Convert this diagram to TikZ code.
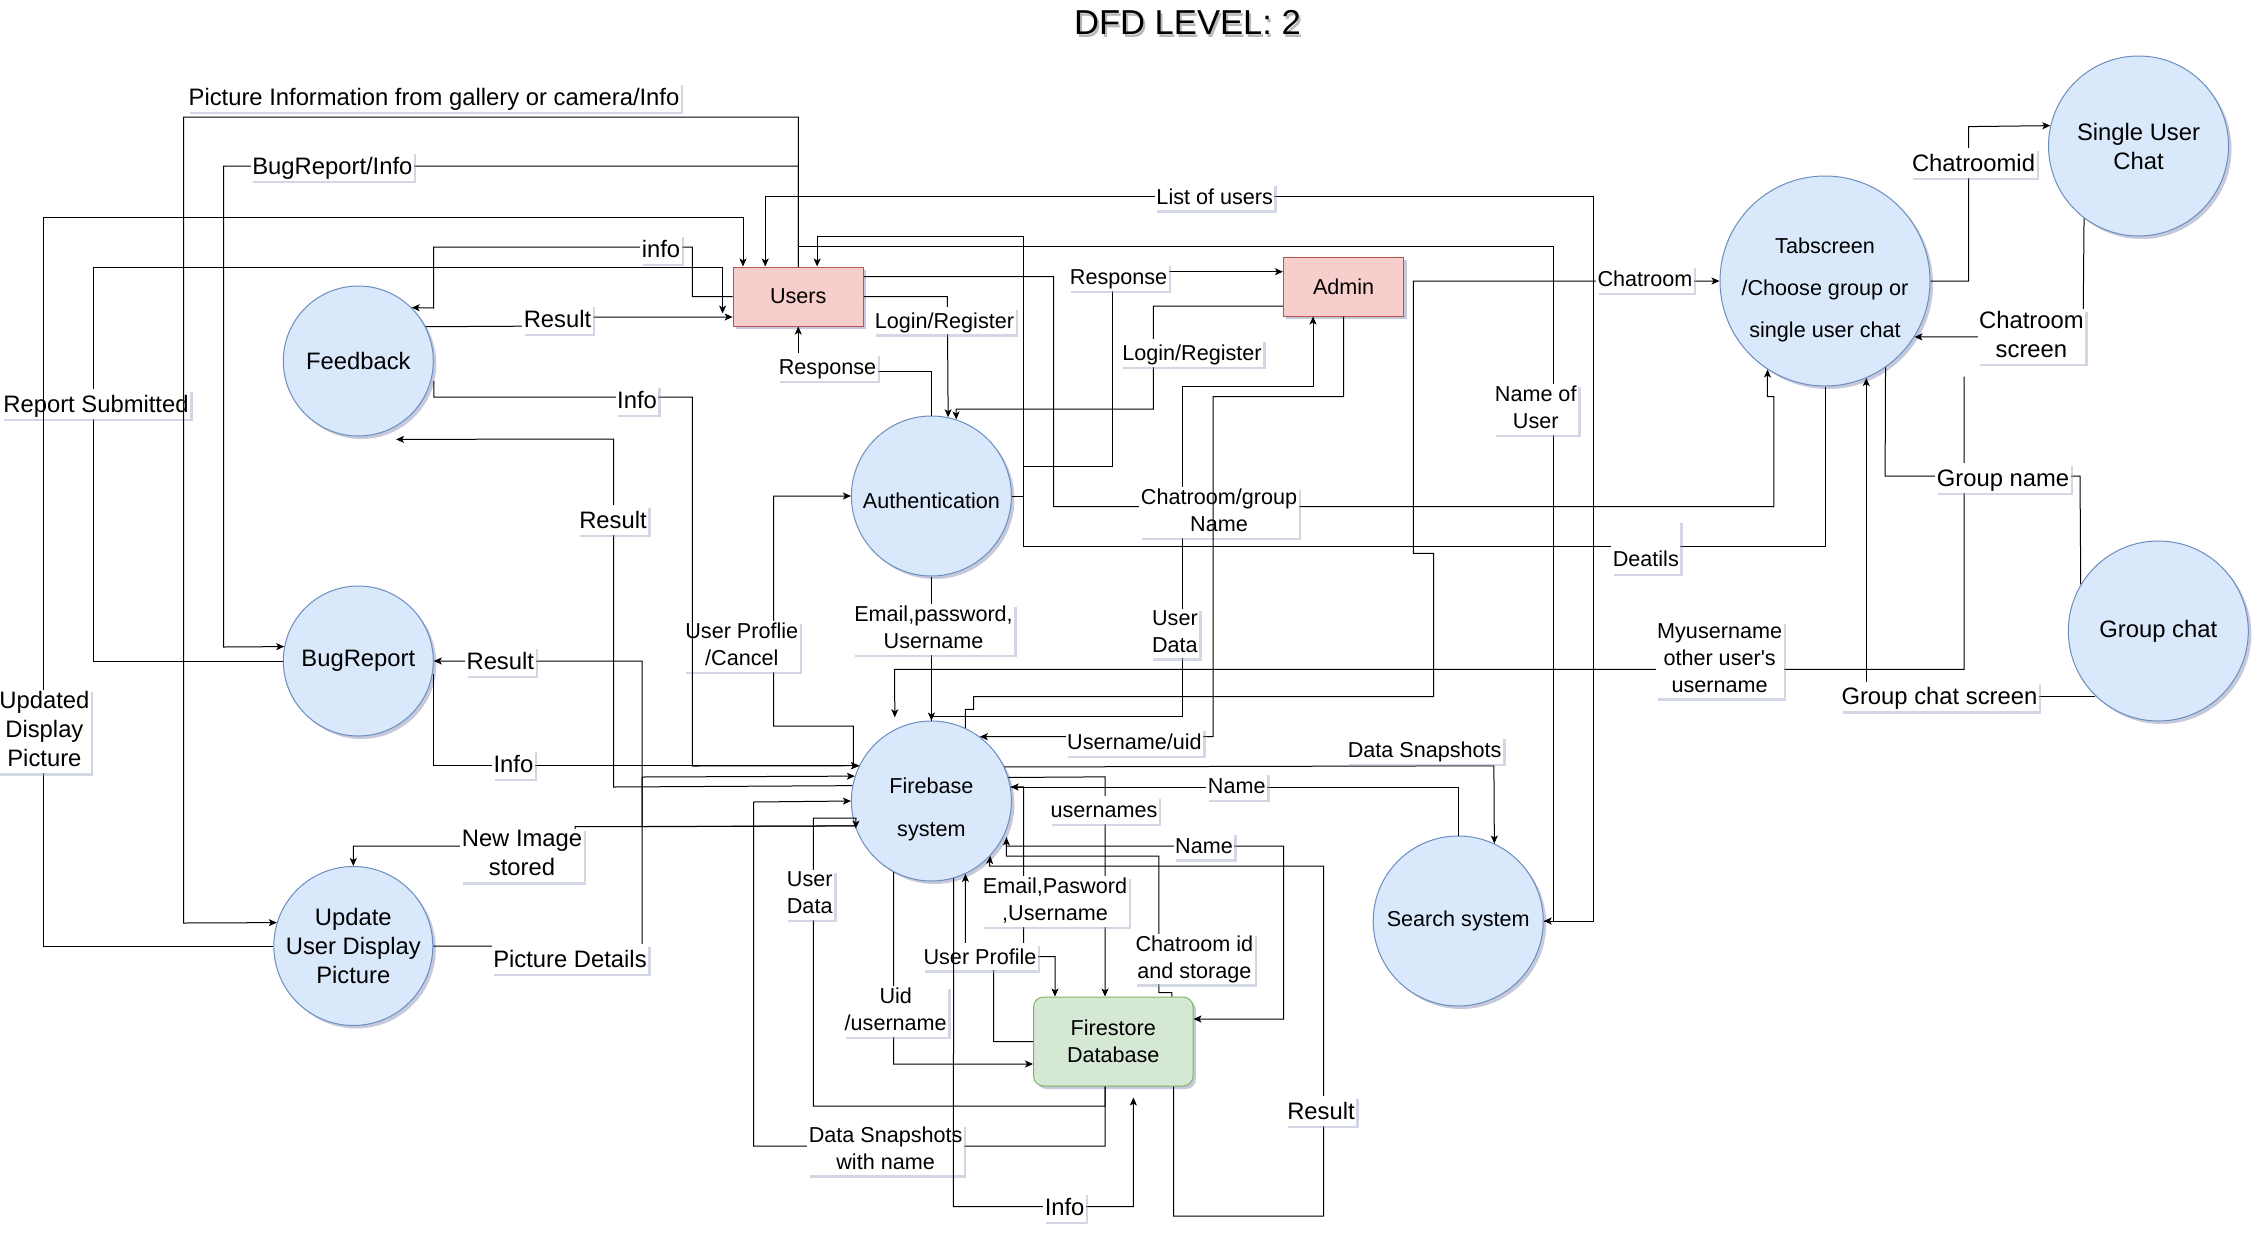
\documentclass[tikz,border=0pt]{standalone}
\usepackage{fontspec}
\setmainfont{Liberation Sans}
\usetikzlibrary{arrows.meta,shadows}
\definecolor{procfill}{HTML}{DAE8FC}
\definecolor{procline}{HTML}{6C8EBF}
\definecolor{entfill}{HTML}{F8CECC}
\definecolor{entline}{HTML}{B85450}
\definecolor{storefill}{HTML}{D5E8D4}
\definecolor{storeline}{HTML}{82B366}
\definecolor{shadowc}{HTML}{9FA6C4}
\newcommand\labS{\fontsize{21.6}{27}\selectfont}
\newcommand\labL{\fontsize{23.8}{29}\selectfont}
\newcommand\ttlfont{\fontsize{34.6}{40}\selectfont}
\newcommand\strS{\rule[-4.6pt]{0pt}{24.1pt}}
\newcommand\strL{\rule[-5pt]{0pt}{26.5pt}}
\begin{document}
\begin{tikzpicture}[x=1pt,y=-1pt,
  conn/.style={line width=1pt, draw=black},
  arr/.style={conn, -{Stealth[length=8pt,width=7pt,inset=2pt]}},
  lab/.style={fill=white, inner sep=1.5pt, align=center, font=\labS, execute at begin node={\strS}, execute at end node={\strS}, drop shadow={shadow xshift=2.5pt, shadow yshift=-2.5pt, fill=shadowc, opacity=0.45}},
  labL/.style={lab, font=\labL, execute at begin node={\strL}, execute at end node={\strL}},
  nshadow/.style={drop shadow={shadow xshift=3pt, shadow yshift=-3pt, fill=shadowc, opacity=0.6}},
  proc/.style={circle, draw=procline, fill=procfill, line width=1pt, inner sep=0pt, minimum size=#1, align=center, font=\labS, nshadow},
  procL/.style={proc=#1, font=\labL},
  ent/.style={rectangle, draw=entline, fill=entfill, line width=1pt, inner sep=0pt, align=center, font=\labS, nshadow},
  store/.style={rectangle, rounded corners=10pt, draw=storeline, fill=storefill, line width=1pt, inner sep=0pt, align=center, font=\labS, nshadow}
]
\fill[white] (0,0) rectangle (2261,1237);
\path[use as bounding box] (0,0) rectangle (2261,1237);

% title
\node[font=\ttlfont, text=black!45, opacity=0.6] (ttlshadow) at (1189.5,25) {DFD LEVEL: 2};
\node[font=\ttlfont] (ttl) at (1187.5,22) {DFD LEVEL: 2};

% nodes
\node[procL=150] (fbk) at (358.3,361) {Feedback};
\node[procL=150] (bug) at (358.3,661) {BugReport};
\node[procL=159] (upd) at (353.3,946) {Update\\User Display\\Picture};
\node[proc=160] (auth) at (931.4,496) {\rule{0pt}{25.8pt}Authentication};
\node[proc=160] (fb) at (931.4,801) {\rule{0pt}{32pt}Firebase\\[16pt]system};
\node[proc=170] (srch) at (1458.2,921) {Search system};
\node[proc=210] (tab) at (1825,281) {\rule{0pt}{33.8pt}Tabscreen\\[15pt]/Choose group or\\[15pt]single user chat};
\node[procL=180] (single) at (2138.5,146) {Single User\\Chat};
\node[procL=180] (grp) at (2158.3,631) {Group chat};
\node[ent, minimum width=130.3pt, minimum height=59pt] (users) at (798.25,296.5) {Users};
\node[ent, minimum width=120.3pt, minimum height=59pt] (admin) at (1343.6,286.5) {Admin};
\node[store, minimum width=159.5pt, minimum height=89pt] (fs) at (1113.25,1041.5) {Firestore\\Database};

% Report Submitted
\draw[arr] (bug.west) -- (93.2,661) -- (93.2,267) -| ([shift={(-10pt,13pt)}]users.south west);
\node[labL] (l4) at (96,404) {Report Submitted};
% Picture information
\draw[arr] (users.north) |- (183.5,117) -- (183.5,923) -- (upd.163.3);
\node[labL] (l1) at (434,97) {Picture Information from gallery or camera/Info};
% Updated display picture
\draw[arr] (upd.west) -- (43.7,946) -- (43.7,217) -| ([xshift=10.4pt]users.north west);
\node[labL] (l3) at (44.4,731.5) {Updated\\Display\\Picture};
% BugReport/Info
\draw[arr] (users.north) |- (223.5,166) -- (223.5,647) -- (bug.169.24);
\node[labL] (l2) at (332.4,166) {BugReport/Info};
% info
\draw[arr] (users.west) -- (692.4,296.5) -- (692.4,247) -- (433.6,247) -- (433.6,308) -- (fbk.45);
\node[labL] (l5) at (661,249) {info};
% Result feedback -> users
\draw[arr] (fbk.27.8) -- (557.5,326) -- (557.5,317) -- ([yshift=-20.5pt]users.west);
\node[labL] (l6) at (557.5,319) {Result};
% User Proflie /Cancel
\draw[arr] (fb.154.06) -- (853.4,766) -- (853.4,726) -- (773.5,726) -- (773.5,496) -- (auth.west);
\node[lab] (l23) at (741.8,646.5) {User Proflie\\/Cancel};
% Info feedback -> firebase
\draw[arr] ([yshift=-20pt]fbk.east) |- (692.4,397) -- (692.4,766) -- (fb.154.06);
\node[labL] (l7) at (637,400) {Info};
% Result firebase -> feedback
\draw[arr] (fb.169.9) -- (613.6,787) -- (613.6,439) -- ([yshift=-13pt]fbk.-60);
\node[labL] (l8) at (613,520) {Result};
% Result firebase -> bugreport
\draw[arr] (fb.198.74) -- (642,826.7) -- (642,661) -- (bug.east);
\node[labL] (l9) at (500.3,661) {Result};
% Info bugreport -> firebase
\draw[arr] ([yshift=-13pt]bug.east) |- (fb.154.06);
\node[labL] (l10) at (513.4,764) {Info};
% New image stored
\draw[arr] (fb.198.74) -- (575,826.7) -- (575,846) -| (upd.north);
% Picture details
\draw[arr] (upd.east) -- (642,946) -- (642,777) -- (fb.162.54);
\node[labL] (l12) at (570,959) {Picture Details};
\node[labL] (l11) at (522,855.5) {New Image\\stored};

% List of users
\draw[arr] (srch.east) -- (1593.5,921) -- (1593.5,196.7) -| ([xshift=-33pt]users.north);
\node[lab] (l13) at (1214.7,196.7) {List of users};
% Name of User
\draw[arr] (users.north) |- (1553.6,246.7) -- (1553.6,921) -- (srch.east);
\node[lab] (l19) at (1535.7,409.5) {Name of\\User};
% Deatils
\draw[arr] (tab.south) -- (1825,546) -- (1023.6,546) -- (1023.6,236.7) -| ([xshift=18.9pt]users.north);
\node[lab, text height=44pt, text depth=6pt] (l21) at (1645.8,547) {Deatils};
% Response auth -> admin
\draw[arr] (auth.east) -- (1023.6,496) -- (1023.6,466.7) -- (1112.3,466.7) -- (1112.3,271.7) -- ([yshift=14.8pt]admin.west);
\node[lab] (l16) at (1118.6,277) {Response};
% Login/Register users -> auth
\draw[arr] (users.east) -- (947.3,296.5) -- (auth.78.54);
\node[lab] (l15) at (944.4,320.8) {Login/Register};
% Response auth -> users
\draw[arr] (auth.north) -- (931.4,371) -- (798.25,371) -- (users.south);
\node[lab] (l14) at (827.5,367) {Response};
% Login/Register admin -> auth
\draw[arr] ([yshift=-19.5pt]admin.west) -- (1153.3,306) -- (1153.3,409) -- (956,409) -- (auth.72.17);
\node[lab] (l17) at (1192,353) {Login/Register};
% User Data firebase -> admin
\draw[arr] (fb.north) -- (931.4,716.7) -- (1182.9,716.7) -- (1182.9,386.7) -- (1313,386.7) -- ([xshift=-30.6pt]admin.south);
\node[lab] (l24) at (1174.9,633.5) {User\\Data};
% Chatroom/group Name
\draw[arr] ([yshift=19.8pt]users.east) -- (1053.5,276.7) -- (1053.5,506.7) -- (1773.8,506.7) -- (1773.8,396.7) -- (1767.3,396.7) -- (tab.-123.14);
\node[lab] (l20) at (1219,512.5) {Chatroom/group\\Name};
% Username/uid
\draw[arr] (admin.south) -- (1343.6,396.7) -- (1213.2,396.7) -- (1213.2,736.7) -- (fb.53.5);
\node[lab] (l26) at (1134.4,742) {Username/uid};
% Chatroom
\draw[arr] (fb.65.09) -- (965.3,709.3) -- (973.6,709.3) -- (973.6,696.7) -- (1433.7,696.7) -- (1433.7,553.3) -- (1413.4,553.3) -- (1413.4,281) -- (tab.west);
\node[lab] (l18) at (1645,279) {Chatroom};
% Myusername
\coordinate (myu) at (1964.2,376.7);
\draw[arr, shorten >=12pt] (myu) -- (1964.2,669.3) -- (894.6,669.3) -- (fb.117.23);
\node[lab] (l25) at (1719.6,660) {Myusername\\other user\textquotesingle s\\username};
% Data Snapshots
\draw[arr] (fb.25.94) -- (1493.9,765.8) -- (srch.65.31);
\node[lab] (l27) at (1424.7,750) {Data Snapshots};
% Name search -> firebase
\draw[arr] (srch.north) |- (fb.10.08);
\node[lab] (l28) at (1236.7,786) {Name};
% Email,password
\draw[arr] (auth.south) -- (fb.north);
\node[lab] (l22) at (933.5,629.5) {Email,password,\\Username};

% User Data firestore -> firebase
\draw[arr] ([xshift=-8.25pt]fs.south) -- (1105,1106) -- (813.4,1106) -- (813.4,818) -- (856,818) -- (fb.200.5);
\node[lab] (l31) at (809.7,895) {User\\Data};
% Data Snapshots with name
\draw[arr] ([xshift=-8.25pt]fs.south) -- (1105,1146) -- (753.5,1146) -- (753.5,802) -- (fb.180.72);
\node[lab] (l36) at (885.6,1150) {Data Snapshots\\with name};
% Uid/username
\draw[arr] (fb.-118.12) -- (893.5,1064) -- ([yshift=-22.5pt]fs.west);
\node[lab] (l35) at (895.7,1011.5) {Uid\\/username};
% usernames
\draw[arr] (fb.17.46) -- (1105,776.85) -- ([xshift=-8.25pt]fs.north);
\node[lab] (l29) at (1104,810) {usernames};
% User Profile
\draw[arr] (fs.west) -- (993.6,1041.5) -- (993.6,956.7) -- (965.3,956.7) -- (fb.-65.09);
% Email,Pasword,Username
\draw[arr] (fb.10.08) -- (1023.6,786.9) -- (1023.6,956.7) -- (1055,956.7) -- ([xshift=-58.25pt]fs.north);
\node[lab] (l32) at (1055,901.5) {Email,Pasword\\,Username};
\node[lab] (l33) at (980,956.7) {User Profile};
% Name firebase -> firestore
\draw[arr] ([yshift=-7.6pt]fb.-21.57) -- (1006.3,846) -- (1283.5,846) -- (1283.5,1019) -- ([yshift=22.5pt]fs.east);
\node[lab] (l30) at (1204,845.7) {Name};
% Chatroom id and storage
\draw[arr, shorten >=7.6pt] ([xshift=58.55pt]fs.north) -- (1171.8,992.7) -- (1158.8,992.7) -- (1158.8,856) -- (1006.3,856) -- (fb.-21.57);
\node[lab] (l34) at (1194.4,959) {Chatroom id\\and storage};
% Result firestore -> firebase
\draw[arr] ([xshift=60.35pt]fs.south) -- (1173.6,1216) -- (1323.5,1216) -- (1323.5,866) -- (989.4,866) -- (fb.-43.95);
\node[labL] (l38) at (1321,1111) {Result};
% Info firebase -> firestore
\draw[arr, shorten >=11pt] (fb.-74.11) -- (953.4,1206.7) -- (1133.4,1206.7) -- ([xshift=20.15pt]fs.south);
\node[labL] (l37) at (1064.6,1207) {Info};

% Chatroomid
\draw[arr] (tab.east) -- (1968.6,281) -- (1968.6,126.6) -- (single.167.62);
\node[labL] (l39) at (1973.5,163) {Chatroomid};
% Chatroom screen
\draw[arr] (single.-127.83) -- (2083,337) -- (tab.-32.04);
\node[labL] (l40) at (2031.4,336.5) {Chatroom\\screen};
% Group name
\draw[conn] (tab.-55.28) -- (1885.1,476) -- (2080,476) -- (grp.149.94);
\node[labL] (l41) at (2003,478) {Group name};
% Group chat screen
\draw[arr] (grp.226.24) -| (tab.-67.08);
\node[labL] (l42) at (1939.4,696.7) {Group chat screen};
\end{tikzpicture}
\end{document}
